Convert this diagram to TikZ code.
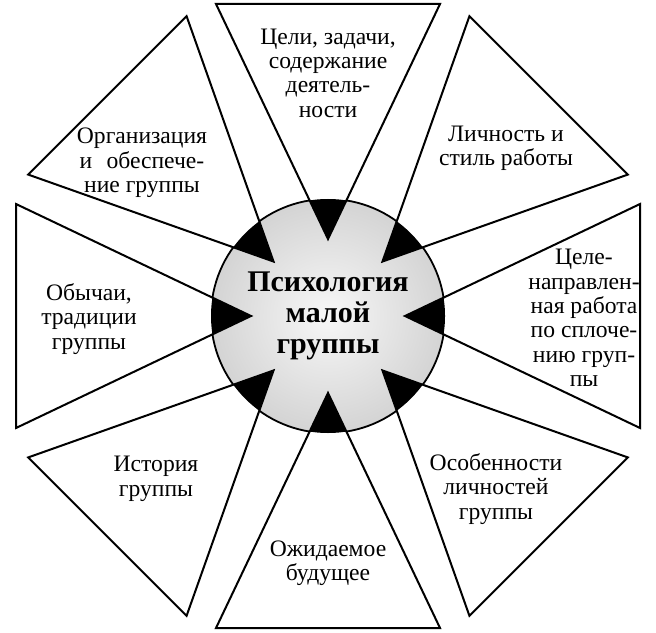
\documentclass[tikz,border=0pt]{standalone}
\usepackage{fontspec}
\setmainfont{Liberation Serif}
\usetikzlibrary{calc}
\begin{document}
\begin{tikzpicture}[x=0.5pt,y=0.5pt,
  petal/.style={fill=white,draw=black,line width=1pt,line join=miter},
  tip/.style={fill=black},
  lbl/.style={align=center,font=\fontsize{11.8}{12.2}\selectfont,inner sep=0pt},
  hub/.style={align=center,font=\fontsize{15}{15.5}\selectfont\bfseries,inner sep=0pt}]
\useasboundingbox (0,0) rectangle (656,632);
\coordinate (C) at (328,316);
% central circle
\shade[inner color=black!3,outer color=black!17] (C) circle (117);
\draw[line width=0.9pt] (C) circle (117);
% petals
\foreach \a/\n in {90/t,45/tr,0/r,-45/br,-90/b,-135/bl,180/l,135/tl}{
  \coordinate (\n A) at ($(C)+(\a:77)$);
  \coordinate (\n P) at ($(C)+(\a:312)+(\a+90:112)$);
  \coordinate (\n Q) at ($(C)+(\a:312)+(\a-90:112)$);
  \path[petal] (\n A) -- (\n P) -- (\n Q) -- cycle;
}
\begin{scope}
  \clip (C) circle (117);
  \foreach \n in {t,tr,r,br,b,bl,l,tl}{
    \fill[tip] (\n A) -- (\n P) -- (\n Q) -- cycle;
  }
\end{scope}
% labels
\node[hub] (hubtext) at (328,316) {Психология\\малой\\группы};
\node[lbl] (lt) at (328,559) {Цели, задачи,\\содержание\\деятель-\\ности};
\node[lbl] (ltr) at (506,484) {Личность и\\стиль работы};
\node[lbl] (lr) at (584,314) {Целе-\\направлен-\\ная работа\\по сплоче-\\нию груп-\\пы};
\node[lbl] (lbr) at (496,143) {Особенности\\личностей\\группы};
\node[lbl] (lb) at (328,69) {Ожидаемое\\будущее};
\node[lbl] (lbl) at (156,153) {История\\группы};
\node[lbl] (ll) at (89,313) {Обычаи,\\традиции\\группы};
\node[lbl] (ltl) at (142,469) {Организация\\и\hspace{0.6em}обеспече-\\ние группы};
\end{tikzpicture}
\end{document}
